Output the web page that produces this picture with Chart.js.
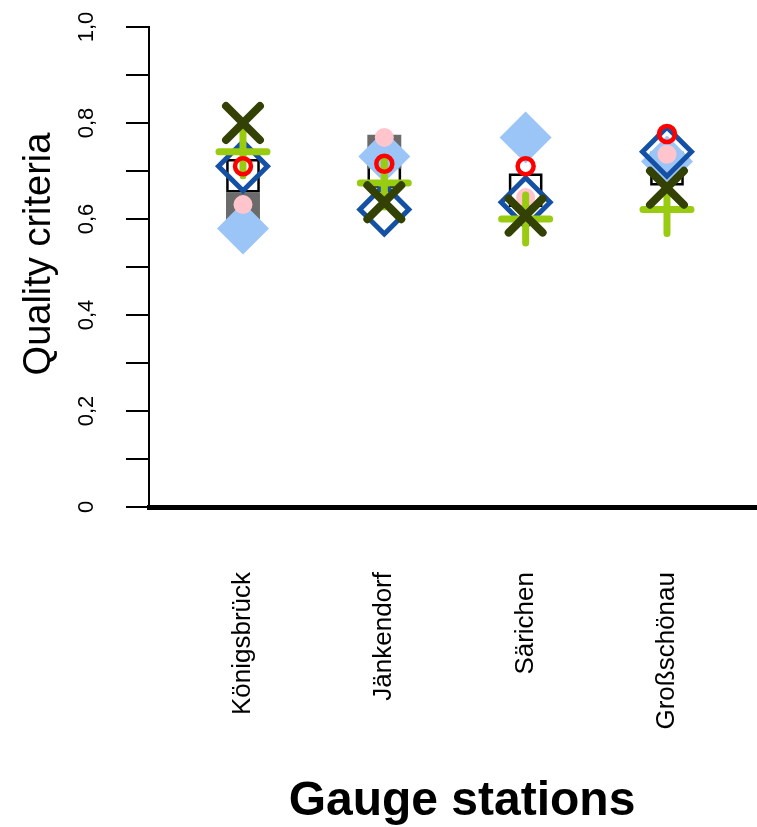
<!DOCTYPE html>
<html>
<head>
<meta charset="utf-8">
<title>Quality criteria per gauge station</title>
<script src="https://cdn.jsdelivr.net/npm/chart.js@4/dist/chart.umd.min.js"></script>
<style>
  html, body { margin: 0; padding: 0; background: #ffffff; }
  #wrap { width: 757px; height: 827px; }
</style>
</head>
<body>
<div id="wrap"><canvas id="chart" width="757" height="827"></canvas></div>
<script>
// Gauge stations (x positions 1..4)
const stations = ['Königsbrück', 'Jänkendorf', 'Särichen', 'Großschönau'];
const stationPos = [1, 2, 3, 4];

// Quality criteria per station, one array per marker
const critOpenSquare   = [0.69, 0.70, 0.66, 0.705];
const critGreySquare   = [0.62, 0.74, null, null];
const critLightDiamond = [0.58, 0.73, 0.77, 0.72];
const critPinkDot      = [0.63, 0.77, 0.645, 0.735];
const critBlueDiamond  = [0.71, 0.62, 0.635, 0.74];
const critPlus         = [0.74, 0.675, 0.60, 0.62];
const critCross        = [0.80, 0.635, 0.607, 0.665];
const critRedCircle    = [0.71, 0.715, 0.71, 0.777];

// Y axis tick labels
const yLabelValues = [0, 0.2, 0.4, 0.6, 0.8, 1.0];
const yLabelTexts  = ['0', '0,2', '0,4', '0,6', '0,8', '1,0'];

const FONT = '"Liberation Sans", Arial, Helvetica, sans-serif';

function pts(values) {
  return stationPos.map((x, i) => ({ x: x, y: values[i] }));
}

function markerSet(label, values, style, order) {
  return Object.assign({
    label: label,
    data: pts(values),
    showLine: false,
    order: order
  }, style);
}

const datasets = [
  markerSet('open square', critOpenSquare, {
    pointStyle: 'rect', pointRadius: 22, borderWidth: 2.5,
    borderColor: '#000000', backgroundColor: 'rgba(0,0,0,0)'
  }, 8),
  markerSet('grey square', critGreySquare, {
    pointStyle: 'rect', pointRadius: 24, borderWidth: 0,
    borderColor: '#6b6b6b', backgroundColor: '#6b6b6b'
  }, 7),
  markerSet('light diamond', critLightDiamond, {
    pointStyle: 'rectRot', pointRadius: 26, borderWidth: 0,
    borderColor: '#9cc5f7', backgroundColor: '#9cc5f7'
  }, 6),
  markerSet('pink dot', critPinkDot, {
    pointStyle: 'circle', pointRadius: 9.5, borderWidth: 0,
    borderColor: '#ffc4cc', backgroundColor: '#ffc4cc'
  }, 5),
  markerSet('blue diamond', critBlueDiamond, {
    pointStyle: 'rectRot', pointRadius: 24.5, borderWidth: 5,
    borderColor: '#1450a3', backgroundColor: 'rgba(0,0,0,0)'
  }, 4),
  markerSet('plus', critPlus, {
    pointStyle: 'cross', pointRadius: 24, borderWidth: 7,
    borderColor: '#99cc11', backgroundColor: '#99cc11', roundCaps: true
  }, 3),
  markerSet('cross', critCross, {
    pointStyle: 'crossRot', pointRadius: 24, borderWidth: 8,
    borderColor: '#334105', backgroundColor: '#334105', roundCaps: true
  }, 2),
  markerSet('red circle', critRedCircle, {
    pointStyle: 'circle', pointRadius: 8, borderWidth: 4.5,
    borderColor: '#ff0000', backgroundColor: 'rgba(0,0,0,0)'
  }, 1)
];

// Round line ends for the plus and cross markers
const roundCapPlugin = {
  id: 'roundCaps',
  beforeDatasetDraw(chart, args) {
    const ds = chart.data.datasets[args.index];
    chart.ctx.save();
    if (ds.roundCaps) {
      chart.ctx.lineCap = 'round';
      chart.ctx.lineJoin = 'round';
    }
  },
  afterDatasetDraw(chart) {
    chart.ctx.restore();
  }
};

// Rotated y tick labels and the axis titles
const labelPlugin = {
  id: 'axisText',
  afterDraw(chart) {
    const ctx = chart.ctx;
    const y = chart.scales.y;
    ctx.save();
    ctx.fillStyle = '#000000';
    ctx.textAlign = 'center';
    ctx.textBaseline = 'middle';
    ctx.font = '22px ' + FONT;
    yLabelValues.forEach((v, i) => {
      ctx.save();
      ctx.translate(87, y.getPixelForValue(v));
      ctx.rotate(-Math.PI / 2);
      ctx.fillText(yLabelTexts[i], 0, 0);
      ctx.restore();
    });
    ctx.save();
    ctx.font = '38px ' + FONT;
    ctx.translate(40, 254);
    ctx.rotate(-Math.PI / 2);
    ctx.fillText('Quality criteria', 0, 0);
    ctx.restore();
    ctx.font = 'bold 48px ' + FONT;
    ctx.fillText('Gauge stations', 462, 802);
    ctx.restore();
  }
};

function noPadding(scale) {
  scale.paddingLeft = 0;
  scale.paddingRight = 0;
  scale.paddingTop = 0;
  scale.paddingBottom = 0;
}

new Chart(document.getElementById('chart'), {
  type: 'scatter',
  data: { datasets: datasets },
  plugins: [roundCapPlugin, labelPlugin],
  options: {
    responsive: false,
    animation: false,
    events: [],
    layout: { autoPadding: false, padding: { top: 27, left: 0, right: 0, bottom: 0 } },
    plugins: { legend: { display: false }, tooltip: { enabled: false } },
    scales: {
      x: {
        type: 'linear',
        min: 0.335,
        max: 4.637,
        afterBuildTicks(scale) {
          scale.ticks = stationPos.map(v => ({ value: v }));
        },
        afterFit(scale) { scale.height = 320; noPadding(scale); },
        grid: { display: false, drawTicks: false },
        border: { display: true, color: '#000000', width: 5 },
        ticks: {
          autoSkip: false,
          minRotation: 90,
          maxRotation: 90,
          padding: 65,
          color: '#000000',
          font: { family: FONT, size: 26 },
          callback: (value) => stations[stationPos.indexOf(value)] || ''
        }
      },
      y: {
        min: 0,
        max: 1,
        afterFit(scale) { scale.width = 149; noPadding(scale); },
        grid: {
          display: true,
          drawOnChartArea: false,
          drawTicks: true,
          tickLength: 23,
          color: '#000000',
          lineWidth: 2
        },
        border: { display: true, color: '#000000', width: 2 },
        ticks: { display: false, stepSize: 0.1 }
      }
    }
  }
});
</script>
</body>
</html>
